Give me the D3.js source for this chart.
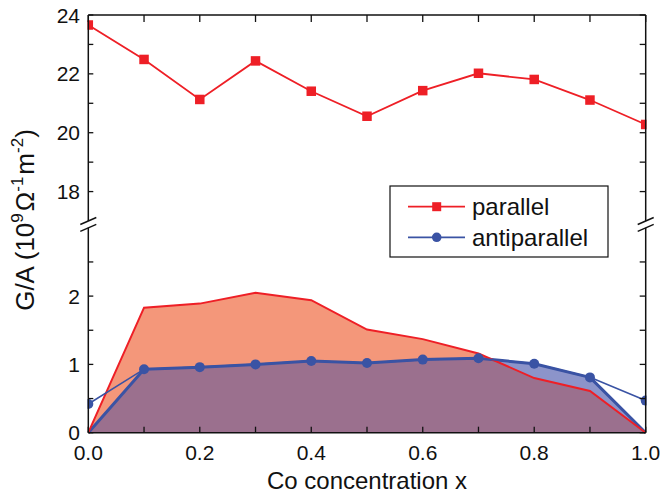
<!DOCTYPE html>
<html>
<head>
<meta charset="utf-8">
<script src="https://cdn.jsdelivr.net/npm/d3@7"></script>
<style>
  html, body { margin: 0; padding: 0; background: #ffffff; }
  svg { display: block; font-family: "Liberation Sans", Arial, sans-serif; }
</style>
</head>
<body>
<svg id="chart" width="660" height="496"></svg>
<script>
// ---------------- data ----------------
const concentrations = [0.0, 0.1, 0.2, 0.3, 0.4, 0.5, 0.6, 0.7, 0.8, 0.9, 1.0];
const parallelHigh = [23.66, 22.49, 21.13, 22.44, 21.41, 20.56, 21.43, 22.02, 21.81, 21.11, 20.28];
const parallelLow = [0, 1.83, 1.89, 2.05, 1.94, 1.51, 1.37, 1.16, 0.80, 0.61, 0];
const antiparallel = [0.42, 0.93, 0.96, 1.00, 1.05, 1.02, 1.07, 1.09, 1.01, 0.81, 0.47];
const antiparallelFill = [0, 0.93, 0.96, 1.00, 1.05, 1.02, 1.07, 1.09, 1.01, 0.81, 0];
const xTickLabels = ["0.0", "0.2", "0.4", "0.6", "0.8", "1.0"];
const xTickValues = [0, 0.2, 0.4, 0.6, 0.8, 1.0];
const xMinorValues = [0.1, 0.3, 0.5, 0.7, 0.9];
const yTopTicks = [18, 20, 22, 24];
const yTopMinor = [19, 21, 23];
const yBottomTicks = [0, 1, 2];
const yBottomMinor = [0.5, 1.5, 2.5];
const seriesNames = ["parallel", "antiparallel"];

(function () {
// ---------------- layout ----------------
const svg = d3.select("#chart");
const pLeft = 88.3, pRight = 645.7, pTop = 15, pBottom = 432.7;
const topBreak = 221, bottomBreak = 227.8;

const RED = "#ee1f26", BLUE = "#3a53a4";
const SALMON = "#f4977a", PURPLE = "#9b708e", LIGHTBLUE = "#8c94ca";

const x = d3.scaleLinear().domain([0, 1]).range([pLeft, pRight]);
const yTop = d3.scaleLinear().domain([17, 24]).range([topBreak, pTop]);
const yBot = d3.scaleLinear().domain([0, 3]).range([pBottom, bottomBreak]);

const lowData = concentrations.map((c, i) => ({ c, p: parallelLow[i], a: antiparallel[i], af: antiparallelFill[i] }));
const highData = concentrations.map((c, i) => ({ c, v: parallelHigh[i] }));

// ---------------- areas ----------------
const redArea = d3.area().x(d => x(d.c)).y0(yBot(0)).y1(d => yBot(d.p));
const blueArea = d3.area().x(d => x(d.c)).y0(yBot(0)).y1(d => yBot(d.af));

const defs = svg.append("defs");
defs.append("clipPath").attr("id", "redClip")
  .append("path").attr("d", redArea(lowData));

svg.append("path").attr("d", redArea(lowData)).attr("fill", SALMON);
svg.append("path").attr("d", blueArea(lowData)).attr("fill", LIGHTBLUE);
svg.append("path").attr("d", blueArea(lowData)).attr("fill", PURPLE).attr("clip-path", "url(#redClip)");

// thick blue outline of the fill
svg.append("path")
  .attr("d", d3.line().x(d => x(d.c)).y(d => yBot(d.af))(lowData))
  .attr("fill", "none").attr("stroke", BLUE).attr("stroke-width", 3).attr("stroke-linejoin", "round");

// red outline of parallel (low part)
svg.append("path")
  .attr("d", d3.line().x(d => x(d.c)).y(d => yBot(d.p))(lowData))
  .attr("fill", "none").attr("stroke", RED).attr("stroke-width", 2);

// thin antiparallel line with markers
svg.append("path")
  .attr("d", d3.line().x(d => x(d.c)).y(d => yBot(d.a))(lowData))
  .attr("fill", "none").attr("stroke", BLUE).attr("stroke-width", 1.6);
svg.selectAll("circle.ap").data(lowData).enter().append("circle")
  .attr("class", "ap")
  .attr("cx", d => x(d.c)).attr("cy", d => yBot(d.a)).attr("r", 5)
  .attr("fill", BLUE);

// parallel (high part)
svg.append("path")
  .attr("d", d3.line().x(d => x(d.c)).y(d => yTop(d.v))(highData))
  .attr("fill", "none").attr("stroke", RED).attr("stroke-width", 1.8);
const sq = 9.5;
svg.selectAll("rect.p").data(highData).enter().append("rect")
  .attr("class", "p")
  .attr("x", d => x(d.c) - sq / 2).attr("y", d => yTop(d.v) - sq / 2)
  .attr("width", sq).attr("height", sq).attr("fill", RED);

// white cover for anything outside the frame
svg.append("rect").attr("x", 0).attr("y", 0).attr("width", pLeft - 0.8).attr("height", 496).attr("fill", "#fff");
svg.append("rect").attr("x", pRight + 0.8).attr("y", 0).attr("width", 660).attr("height", 496).attr("fill", "#fff");

// ---------------- frame / axes ----------------
const ax = svg.append("g").attr("stroke", "#111").attr("stroke-width", 1.5).attr("fill", "none");
ax.append("line").attr("x1", pLeft).attr("x2", pRight).attr("y1", pTop).attr("y2", pTop);
ax.append("line").attr("x1", pLeft).attr("x2", pRight).attr("y1", pBottom).attr("y2", pBottom);
[pLeft, pRight].forEach(xx => {
  ax.append("line").attr("x1", xx).attr("x2", xx).attr("y1", pTop).attr("y2", topBreak);
  ax.append("line").attr("x1", xx).attr("x2", xx).attr("y1", bottomBreak).attr("y2", pBottom);
});

// break marks
const brk = svg.append("g").attr("stroke", "#111").attr("stroke-width", 1.4);
[pLeft, pRight].forEach(xx => {
  [topBreak, bottomBreak].forEach(yy => {
    brk.append("line").attr("x1", xx - 8).attr("y1", yy + 3.5).attr("x2", xx + 8).attr("y2", yy - 3.5);
  });
});

// ticks
const tk = svg.append("g").attr("stroke", "#111").attr("stroke-width", 1.3);
xTickValues.concat(xMinorValues).forEach(v => {
  tk.append("line").attr("x1", x(v)).attr("x2", x(v)).attr("y1", pBottom).attr("y2", pBottom - 6);
  tk.append("line").attr("x1", x(v)).attr("x2", x(v)).attr("y1", pTop).attr("y2", pTop + 7);
});
const yTickPos = yTopTicks.concat(yTopMinor).map(v => yTop(v))
  .concat(yBottomTicks.concat(yBottomMinor).map(v => yBot(v)));
yTickPos.forEach(py => {
  tk.append("line").attr("x1", pLeft).attr("x2", pLeft + 5).attr("y1", py).attr("y2", py);
  tk.append("line").attr("x1", pRight).attr("x2", pRight - 6).attr("y1", py).attr("y2", py);
});

// tick labels
const lab = svg.append("g").attr("fill", "#111").attr("font-size", 21);
xTickValues.forEach((v, i) => {
  lab.append("text").attr("x", x(v)).attr("y", 459.5).attr("text-anchor", "middle").text(xTickLabels[i]);
});
yTopTicks.forEach(v => {
  lab.append("text").attr("x", 80).attr("y", yTop(v) + 7.5).attr("text-anchor", "end").text(v);
});
yBottomTicks.forEach(v => {
  lab.append("text").attr("x", 80).attr("y", yBot(v) + 7.5).attr("text-anchor", "end").text(v);
});

// axis titles
svg.append("text").attr("x", (pLeft + pRight) / 2).attr("y", 489).attr("text-anchor", "middle")
  .attr("font-size", 24).attr("fill", "#111").text("Co concentration x");

const yt = svg.append("text").attr("transform", "translate(34,220) rotate(-90)")
  .attr("text-anchor", "middle").attr("font-size", 26).attr("fill", "#111");
yt.append("tspan").text("G/A (10");
yt.append("tspan").attr("dy", -11).attr("font-size", 17).text("9");
yt.append("tspan").attr("dy", 11).attr("dx", 2).text("Ω");
yt.append("tspan").attr("dy", -11).attr("font-size", 17).text("-1");
yt.append("tspan").attr("dy", 11).attr("dx", 2).text("m");
yt.append("tspan").attr("dy", -11).attr("font-size", 17).text("-2");
yt.append("tspan").attr("dy", 11).text(")");

// ---------------- legend ----------------
const lg = svg.append("g");
lg.append("rect").attr("x", 390).attr("y", 186).attr("width", 218).attr("height", 71)
  .attr("fill", "#fff").attr("stroke", "#111").attr("stroke-width", 1.2);
const legendRows = [
  { name: seriesNames[0], color: RED, y: 206.7, shape: "square" },
  { name: seriesNames[1], color: BLUE, y: 237.3, shape: "circle" }
];
legendRows.forEach(r => {
  lg.append("line").attr("x1", 408).attr("x2", 465).attr("y1", r.y).attr("y2", r.y)
    .attr("stroke", r.color).attr("stroke-width", 1.8);
  if (r.shape === "square") {
    lg.append("rect").attr("x", 436.7 - 4.5).attr("y", r.y - 4.5).attr("width", 9).attr("height", 9).attr("fill", r.color);
  } else {
    lg.append("circle").attr("cx", 436.7).attr("cy", r.y).attr("r", 4.8).attr("fill", r.color);
  }
  lg.append("text").attr("x", 472).attr("y", r.y + 8.3).attr("font-size", 24).attr("fill", "#111").text(r.name);
});
})();
</script>
</body>
</html>
